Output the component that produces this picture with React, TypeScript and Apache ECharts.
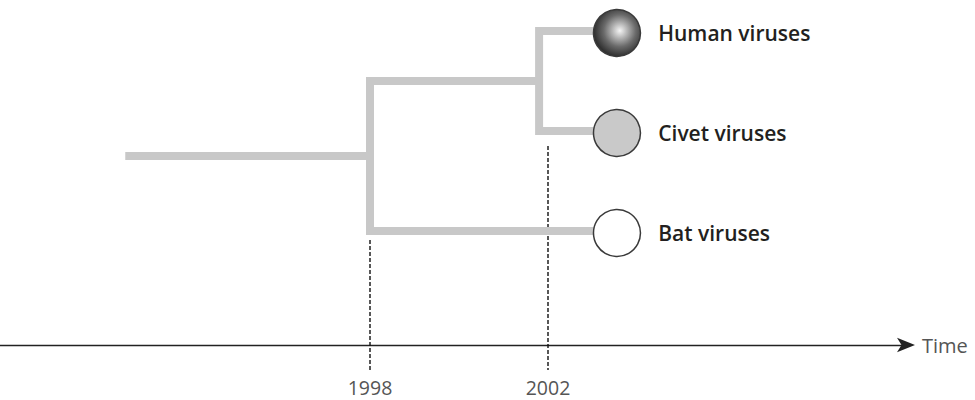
import React, { useEffect, useRef } from "react";
import * as echarts from "echarts";

// Leaves of the dendrogram (top to bottom)
const leafNames = ["Human viruses", "Civet viruses", "Bat viruses"];
const leafLevels = [0, 1, 2];
// Times (years) along the axis
const rootStart = 1992.5;
const split1998 = 1998; // bat vs (human+civet)
const split2002 = 2001.8; // human vs civet
const tipTime = 2003.5;
// Tick labels shown on the time axis
const tickYears = [1998, 2002];
// Dashed drop lines: top level of each dashed line, and bottom level
const dashTops = [2.09, 1.15];
const dashBottom = 3.39;

const branchColor = "#c8c8c8";

export default function App() {
  const ref = useRef<HTMLDivElement>(null);
  useEffect(() => {
    if (!ref.current) return;
    const chart = echarts.init(ref.current, null, { renderer: "svg" });
    const inner = (leafLevels[0] + leafLevels[1]) / 2;
    const stem = (inner + leafLevels[2]) / 2;

    const branchStyle = {
      color: branchColor,
      width: 8,
      cap: "butt" as const,
      join: "miter" as const,
    };
    const branchSeries = (data: number[][]) => ({
      type: "line",
      data,
      symbol: "none",
      clip: false,
      silent: true,
      lineStyle: branchStyle,
      z: 2,
    });

    const fills: any[] = [
      {
        type: "radial",
        x: 0.56,
        y: 0.45,
        r: 0.62,
        colorStops: [
          { offset: 0, color: "#f5f5f5" },
          { offset: 0.55, color: "#6a6a6a" },
          { offset: 1, color: "#1c1c1c" },
        ],
      },
      "#c9c9c9",
      "#ffffff",
    ];

    const option: any = {
      animation: false,
      backgroundColor: "#ffffff",
      grid: { left: 0, right: 65, top: 0, bottom: 55, containLabel: false },
      xAxis: {
        type: "value",
        position: "bottom",
        min: 1998 - 370 / 44.5,
        max: 1998 + 540 / 44.5,
        splitLine: { show: false },
        axisTick: { show: false },
        axisLine: {
          show: true,
          onZero: false,
          lineStyle: { color: "#222", width: 1.3 },
          symbol: ["none", "arrow"],
          symbolSize: [11, 18],
          symbolOffset: [0, 5],
        },
        axisLabel: {
          customValues: tickYears,
          formatter: (v: number) => String(v),
          color: "#555",
          fontSize: 19.5,
          fontFamily: "Open Sans",
          margin: 32,
        },
        name: "Time",
        nameLocation: "end",
        nameGap: 12,
        nameTextStyle: {
          color: "#555",
          fontSize: 20,
          fontFamily: "Open Sans",
          verticalAlign: "middle",
        },
      },
      yAxis: {
        type: "value",
        inverse: true,
        min: -0.31,
        max: 3.14,
        show: false,
      },
      series: [
        // root stem
        branchSeries([
          [rootStart, stem],
          [split1998, stem],
        ]),
        // 1998 split: up to inner node, down to bat
        branchSeries([
          [split2002, inner],
          [split1998, inner],
          [split1998, leafLevels[2]],
          [tipTime, leafLevels[2]],
        ]),
        // 2002 split: human and civet
        branchSeries([
          [tipTime, leafLevels[0]],
          [split2002, leafLevels[0]],
          [split2002, leafLevels[1]],
          [tipTime, leafLevels[1]],
        ]),
        // dashed drop lines
        ...tickYears.map((yr, i) => ({
          type: "line",
          data: [
            [yr, dashTops[i]],
            [yr, dashBottom],
          ],
          symbol: "none",
          clip: false,
          silent: true,
          lineStyle: { color: "#111", width: 1.4, type: [4, 2] },
          z: 1,
        })),
        // leaves
        {
          type: "scatter",
          symbol: "circle",
          symbolSize: 47,
          clip: false,
          z: 5,
          itemStyle: { opacity: 1 },
          data: leafNames.map((n, i) => ({
            name: n,
            value: [tipTime + 0.05, leafLevels[i] + 0.02],
            itemStyle: {
              color: fills[i],
              borderColor: "#3a3a3a",
              borderWidth: 1.5,
              opacity: 1,
            },
          })),
          label: {
            show: true,
            position: "right",
            distance: 17,
            formatter: (p: any) => p.name,
            color: "#231f20",
            fontSize: 21,
            fontWeight: 600,
            fontFamily: "Open Sans",
          },
        },
      ],
    };
    chart.setOption(option);
    return () => chart.dispose();
  }, []);
  return (
    <div
      ref={ref}
      style={{ position: "fixed", left: 0, top: 0, width: 975, height: 400 }}
    />
  );
}
